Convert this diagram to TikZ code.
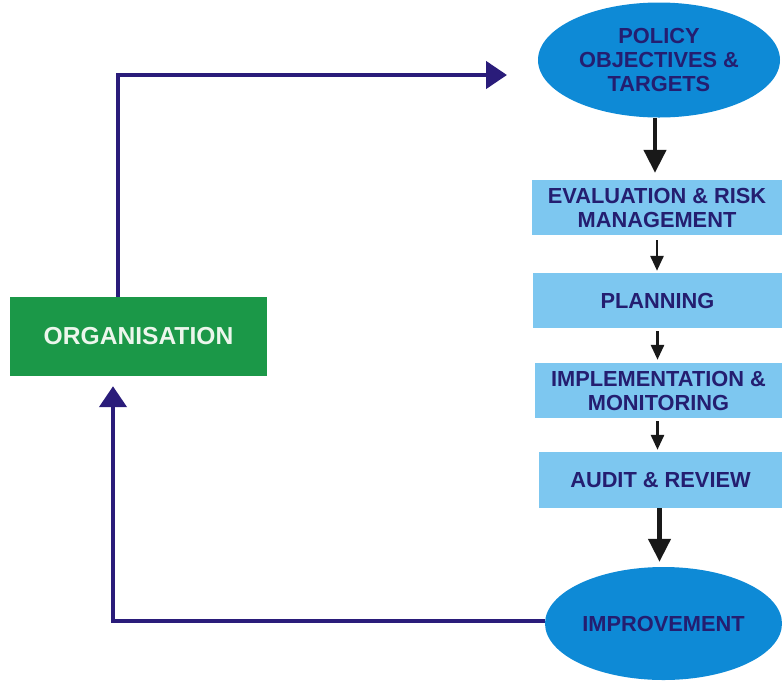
\documentclass[tikz,border=0pt]{standalone}
\usepackage{fontspec}
\setmainfont{Liberation Sans}
\usetikzlibrary{shapes.geometric,arrows.meta}
\definecolor{ellblue}{RGB}{14,138,214}
\definecolor{boxblue}{RGB}{125,199,240}
\definecolor{orggreen}{RGB}{27,152,72}
\definecolor{navytxt}{RGB}{36,30,112}
\definecolor{navyline}{RGB}{42,28,122}
\definecolor{orgtxt}{RGB}{236,246,236}
\definecolor{arrowblk}{RGB}{25,25,25}
\begin{document}
\begin{tikzpicture}[x=1pt,y=-1pt,
  lbl/.style={font=\bfseries\fontsize{21.8}{24}\selectfont, text=navytxt, align=center, inner sep=0pt},
  ellnode/.style={lbl, ellipse, fill=ellblue},
  stepbox/.style={lbl, rectangle, fill=boxblue, minimum height=55pt},
  orgbox/.style={rectangle, fill=orggreen, font=\bfseries\fontsize{24.6}{28}\selectfont, text=orgtxt, inner sep=0pt},
  bigarrow/.style={draw=arrowblk, line width=4.4pt, -{Triangle[width=22pt,length=23pt]}},
  smallarrow/.style={draw=arrowblk, line width=2.8pt, -{Triangle[width=13pt,length=15pt]}},
  loopline/.style={draw=navyline, line width=4.6pt, -{Triangle[width=27pt,length=21pt]}}
]
\useasboundingbox (0,0) rectangle (782,681);

\node[ellnode, minimum width=242pt, minimum height=115pt] (pol) at (659,60) {POLICY\\OBJECTIVES \&\\TARGETS};
\node[stepbox, minimum width=250pt] (eva) at (657,207.5) {EVALUATION \& RISK\\MANAGEMENT};
\node[stepbox, minimum width=249pt] (pla) at (657.5,300.5) {PLANNING};
\node[stepbox, minimum width=247pt] (imp) at (658.5,390.5) {IMPLEMENTATION \&\\MONITORING};
\node[stepbox, minimum width=243pt, minimum height=56pt] (aud) at (660.5,480) {AUDIT \& REVIEW};
\node[ellnode, minimum width=237pt, minimum height=113pt] (impr) at (663.5,623.5) {IMPROVEMENT};
\node[orgbox, minimum width=257pt, minimum height=79pt] (org) at (138.5,336.5) {ORGANISATION};

\draw[bigarrow, shorten >=7pt] ([xshift=-4pt]pol.south) -- ([xshift=-4pt]pol.south |- eva.north);
\draw[smallarrow, shorten <=5pt, shorten >=2pt] (eva.south) -- (eva.south |- pla.north);
\draw[smallarrow, shorten <=3pt, shorten >=3pt] (pla.south) -- (pla.south |- imp.north);
\draw[smallarrow, shorten <=3pt, shorten >=2pt] ([xshift=-1pt]imp.south) -- ([xshift=-1pt]imp.south |- aud.north);
\draw[bigarrow, shorten >=5pt] ([xshift=-1pt]aud.south) -- ([xshift=-1pt]aud.south |- impr.north);

\coordinate (c1) at (118,75);
\coordinate (c2) at (507,75);
\coordinate (c3) at (113,621);
\draw[loopline] (org.north -| c1) -- (c1) -- (c2);
\draw[loopline, shorten >=10pt] ([yshift=2.5pt]impr.west) -- (c3) -- (org.south -| c3);
\end{tikzpicture}
\end{document}
